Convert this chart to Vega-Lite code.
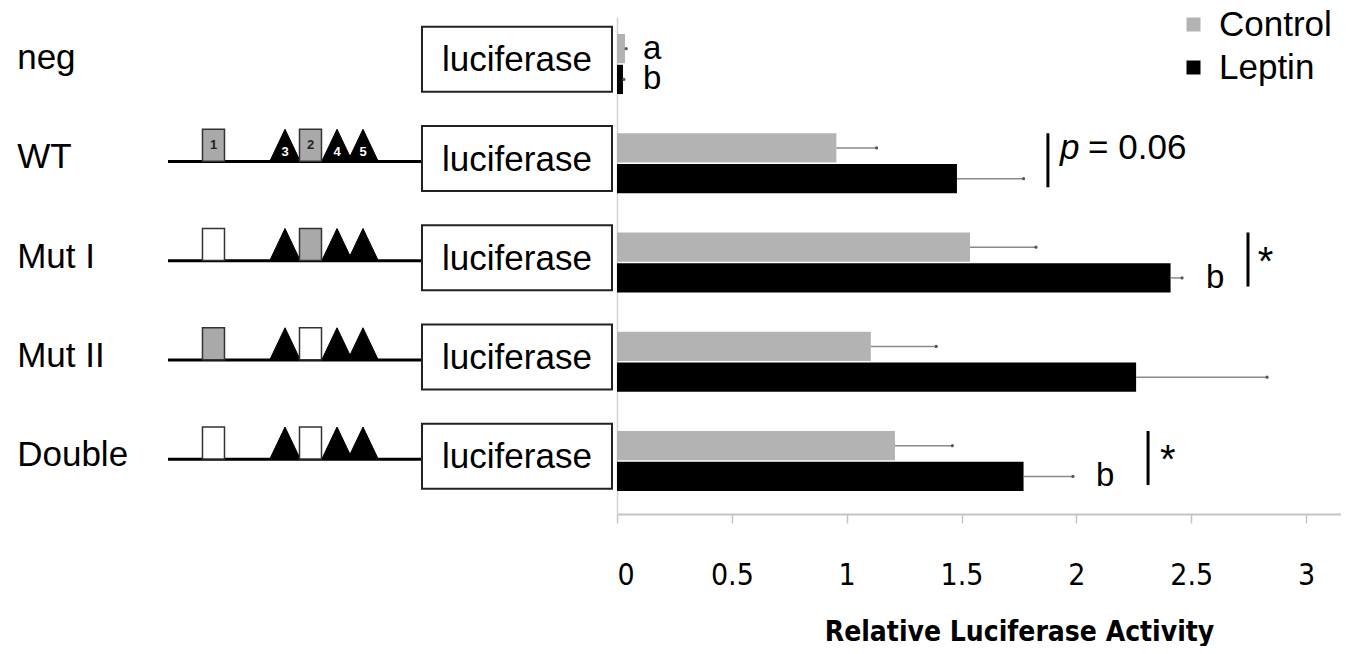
{
  "$schema": "https://vega.github.io/schema/vega-lite/v6.json",
  "background": "white",
  "padding": {"left": 0, "top": 7, "right": 0, "bottom": 0},
  "spacing": 0,
  "config": {
    "view": {"stroke": null},
    "font": "Liberation Sans",
    "legend": {
      "orient": "none", "legendX": 1176, "legendY": -10,
      "symbolType": "square", "symbolSize": 196, "symbolStrokeWidth": 0,
      "labelFont": "Liberation Sans", "labelFontSize": 35, "labelColor": "#000",
      "labelOffset": 8, "rowPadding": 7, "title": null
    }
  },
  "datasets": {
    "bars": [
      {"construct": "neg", "series": "Control", "value": 0.035, "upper": 0.04},
      {"construct": "neg", "series": "Leptin", "value": 0.026, "upper": 0.03},
      {"construct": "WT", "series": "Control", "value": 0.955, "upper": 1.13},
      {"construct": "WT", "series": "Leptin", "value": 1.48, "upper": 1.77},
      {"construct": "Mut I", "series": "Control", "value": 1.537, "upper": 1.824},
      {"construct": "Mut I", "series": "Leptin", "value": 2.41, "upper": 2.46},
      {"construct": "Mut II", "series": "Control", "value": 1.105, "upper": 1.39},
      {"construct": "Mut II", "series": "Leptin", "value": 2.26, "upper": 2.83},
      {"construct": "Double", "series": "Control", "value": 1.21, "upper": 1.46},
      {"construct": "Double", "series": "Leptin", "value": 1.77, "upper": 1.985}
    ],
    "constructs": [
      {"construct": "neg", "promoter": false},
      {"construct": "WT", "promoter": true},
      {"construct": "Mut I", "promoter": true},
      {"construct": "Mut II", "promoter": true},
      {"construct": "Double", "promoter": true}
    ],
    "sites": [
      {"construct": "WT", "site": "1", "kind": "box", "status": "intact", "pos": 34.77},
      {"construct": "WT", "site": "2", "kind": "box", "status": "intact", "pos": 50.57},
      {"construct": "WT", "site": "3", "kind": "triangle", "status": "intact", "pos": 46.42},
      {"construct": "WT", "site": "4", "kind": "triangle", "status": "intact", "pos": 54.89},
      {"construct": "WT", "site": "5", "kind": "triangle", "status": "intact", "pos": 59.12},
      {"construct": "Mut I", "site": "1", "kind": "box", "status": "mutated", "pos": 34.77},
      {"construct": "Mut I", "site": "2", "kind": "box", "status": "intact", "pos": 50.57},
      {"construct": "Mut I", "site": "3", "kind": "triangle", "status": "intact", "pos": 46.42},
      {"construct": "Mut I", "site": "4", "kind": "triangle", "status": "intact", "pos": 54.89},
      {"construct": "Mut I", "site": "5", "kind": "triangle", "status": "intact", "pos": 59.12},
      {"construct": "Mut II", "site": "1", "kind": "box", "status": "intact", "pos": 34.77},
      {"construct": "Mut II", "site": "2", "kind": "box", "status": "mutated", "pos": 50.57},
      {"construct": "Mut II", "site": "3", "kind": "triangle", "status": "intact", "pos": 46.42},
      {"construct": "Mut II", "site": "4", "kind": "triangle", "status": "intact", "pos": 54.89},
      {"construct": "Mut II", "site": "5", "kind": "triangle", "status": "intact", "pos": 59.12},
      {"construct": "Double", "site": "1", "kind": "box", "status": "mutated", "pos": 34.77},
      {"construct": "Double", "site": "2", "kind": "box", "status": "mutated", "pos": 50.57},
      {"construct": "Double", "site": "3", "kind": "triangle", "status": "intact", "pos": 46.42},
      {"construct": "Double", "site": "4", "kind": "triangle", "status": "intact", "pos": 54.89},
      {"construct": "Double", "site": "5", "kind": "triangle", "status": "intact", "pos": 59.12}
    ],
    "letters": [
      {"construct": "neg", "series": "Control", "x": 0.113, "label": "a"},
      {"construct": "neg", "series": "Leptin", "x": 0.113, "label": "b"},
      {"construct": "Mut I", "series": "Leptin", "x": 2.564, "label": "b"},
      {"construct": "Double", "series": "Leptin", "x": 2.085, "label": "b"}
    ],
    "pvalues": [
      {"construct": "WT", "series": "Control", "x": 1.929, "label": "= 0.06"}
    ],
    "sig": [
      {"construct": "WT", "x": 1.876},
      {"construct": "Mut I", "x": 2.747},
      {"construct": "Double", "x": 2.312}
    ],
    "stars": [
      {"construct": "Mut I", "x": 2.79, "label": "*"},
      {"construct": "Double", "x": 2.364, "label": "*"}
    ]
  },
  "hconcat": [
    {
      "width": 614,
      "height": 497,
      "layer": [
        {
          "data": {"name": "constructs"},
          "transform": [{"filter": "datum.promoter"}],
          "mark": {"type": "rule", "color": "#000", "strokeWidth": 3},
          "encoding": {
            "x": {"datum": 27.36, "type": "quantitative", "scale": {"domain": [0, 100], "nice": false}, "axis": null},
            "x2": {"datum": 68.73},
            "y": {"field": "construct", "type": "nominal", "sort": ["neg", "WT", "Mut I", "Mut II", "Double"], "bandPosition": 0.47,
                  "scale": {"type": "band", "paddingInner": 0.395, "paddingOuter": 0.2013, "align": 0.4255, "round": false}, "axis": null}
          }
        },
        {
          "data": {"name": "sites"},
          "transform": [{"filter": "datum.kind === 'triangle'"}],
          "mark": {"type": "point", "shape": "M0,-1L0.95,1L-0.95,1Z", "size": 1024, "filled": true, "fill": "#000", "stroke": "#000", "strokeWidth": 1, "opacity": 1},
          "encoding": {
            "x": {"field": "pos", "type": "quantitative"},
            "y": {"field": "construct", "type": "nominal", "sort": ["neg", "WT", "Mut I", "Mut II", "Double"], "bandPosition": 0.2}
          }
        },
        {
          "data": {"name": "sites"},
          "transform": [{"filter": "datum.kind === 'box'"}],
          "mark": {"type": "point", "shape": "M-0.6875,-1H0.6875V1H-0.6875Z", "size": 1024, "filled": true, "stroke": "#333", "strokeWidth": 1.5, "opacity": 1},
          "encoding": {
            "x": {"field": "pos", "type": "quantitative"},
            "y": {"field": "construct", "type": "nominal", "sort": ["neg", "WT", "Mut I", "Mut II", "Double"], "bandPosition": 0.2},
            "fill": {"field": "status", "type": "nominal", "scale": {"domain": ["intact", "mutated"], "range": ["#a9a9a9", "#ffffff"]}, "legend": null}
          }
        },
        {
          "data": {"name": "sites"},
          "transform": [{"filter": "datum.construct === 'WT' && datum.kind === 'box'"}],
          "mark": {"type": "text", "fontSize": 13, "fontWeight": "bold", "color": "#222", "align": "center", "baseline": "middle"},
          "encoding": {
            "x": {"field": "pos", "type": "quantitative"},
            "y": {"field": "construct", "type": "nominal", "sort": ["neg", "WT", "Mut I", "Mut II", "Double"], "bandPosition": 0.2},
            "text": {"field": "site"}
          }
        },
        {
          "data": {"name": "sites"},
          "transform": [{"filter": "datum.construct === 'WT' && datum.kind === 'triangle'"}],
          "mark": {"type": "text", "fontSize": 13, "fontWeight": "bold", "color": "#fff", "align": "center", "baseline": "middle"},
          "encoding": {
            "x": {"field": "pos", "type": "quantitative"},
            "y": {"field": "construct", "type": "nominal", "sort": ["neg", "WT", "Mut I", "Mut II", "Double"], "bandPosition": 0.32},
            "text": {"field": "site"}
          }
        },
        {
          "data": {"name": "constructs"},
          "mark": {"type": "point", "shape": "M-1,-0.342H1V0.342H-1Z", "size": 36100, "filled": true, "fill": "#fff", "stroke": "#222", "strokeWidth": 2, "opacity": 1},
          "encoding": {
            "x": {"datum": 84.2, "type": "quantitative"},
            "y": {"field": "construct", "type": "nominal", "sort": ["neg", "WT", "Mut I", "Mut II", "Double"], "bandPosition": 0.42}
          }
        },
        {
          "data": {"name": "constructs"},
          "mark": {"type": "text", "text": "luciferase", "fontSize": 35, "color": "#000", "align": "center", "baseline": "middle"},
          "encoding": {
            "x": {"datum": 84.2, "type": "quantitative"},
            "y": {"field": "construct", "type": "nominal", "sort": ["neg", "WT", "Mut I", "Mut II", "Double"], "bandPosition": 0.44}
          }
        },
        {
          "data": {"name": "constructs"},
          "mark": {"type": "text", "fontSize": 35, "color": "#000", "align": "left", "baseline": "middle"},
          "encoding": {
            "x": {"datum": 2.8, "type": "quantitative"},
            "y": {"field": "construct", "type": "nominal", "sort": ["neg", "WT", "Mut I", "Mut II", "Double"], "bandPosition": 0.4},
            "text": {"field": "construct"}
          }
        }
      ]
    },
    {
      "width": 724,
      "height": 497,
      "layer": [
        {
          "data": {"name": "bars"},
          "mark": {"type": "bar"},
          "encoding": {
            "y": {"field": "construct", "type": "nominal", "sort": ["neg", "WT", "Mut I", "Mut II", "Double"],
                  "scale": {"type": "band", "paddingInner": 0.395, "paddingOuter": 0.2013, "align": 0.4255, "round": false},
                  "axis": {"labels": false, "ticks": false, "title": null, "grid": false, "domainColor": "#d2d2d2", "domainWidth": 1.5}},
            "yOffset": {"field": "series", "type": "nominal", "sort": ["Control", "Leptin"], "scale": {"paddingInner": 0.05, "paddingOuter": 0}},
            "x": {"field": "value", "type": "quantitative",
                  "scale": {"domain": [0, 3.152], "nice": false, "zero": true},
                  "axis": {"values": [0, 0.5, 1, 1.5, 2, 2.5, 3], "format": "~g", "grid": false,
                           "domainColor": "#c4c4c4", "domainWidth": 2, "tickColor": "#c4c4c4", "tickWidth": 1.5, "tickSize": 9,
                           "labelFont": "Liberation Sans Narrow, DejaVu Sans Condensed, sans-serif", "labelFontSize": 30, "labelColor": "#000", "labelPadding": 37,
                           "title": "Relative Luciferase Activity", "titleFont": "Liberation Sans Narrow, DejaVu Sans Condensed, sans-serif",
                           "titleFontSize": 28, "titleFontWeight": "bold", "titleColor": "#000",
                           "titleX": 402, "titleY": 126, "titleAlign": "center", "titleBaseline": "alphabetic"}},
            "color": {"field": "series", "type": "nominal", "scale": {"domain": ["Control", "Leptin"], "range": ["#b3b3b3", "#000000"]}}
          }
        },
        {
          "data": {"name": "bars"},
          "mark": {"type": "rule", "color": "#8a8a8a", "strokeWidth": 1.5},
          "encoding": {
            "y": {"field": "construct", "type": "nominal", "sort": ["neg", "WT", "Mut I", "Mut II", "Double"]},
            "yOffset": {"field": "series", "type": "nominal", "sort": ["Control", "Leptin"]},
            "x": {"field": "value", "type": "quantitative"},
            "x2": {"field": "upper"}
          }
        },
        {
          "data": {"name": "bars"},
          "mark": {"type": "point", "filled": true, "color": "#555", "size": 10, "opacity": 1},
          "encoding": {
            "y": {"field": "construct", "type": "nominal", "sort": ["neg", "WT", "Mut I", "Mut II", "Double"]},
            "yOffset": {"field": "series", "type": "nominal", "sort": ["Control", "Leptin"]},
            "x": {"field": "upper", "type": "quantitative"}
          }
        },
        {
          "data": {"name": "letters"},
          "mark": {"type": "text", "fontSize": 33, "color": "#000", "align": "left", "baseline": "middle"},
          "encoding": {
            "y": {"field": "construct", "type": "nominal", "sort": ["neg", "WT", "Mut I", "Mut II", "Double"]},
            "yOffset": {"field": "series", "type": "nominal", "sort": ["Control", "Leptin"]},
            "x": {"field": "x", "type": "quantitative"},
            "text": {"field": "label"}
          }
        },
        {
          "data": {"name": "pvalues"},
          "mark": {"type": "text", "text": "p", "fontStyle": "italic", "fontSize": 35, "color": "#000", "align": "left", "baseline": "middle"},
          "encoding": {
            "y": {"field": "construct", "type": "nominal", "sort": ["neg", "WT", "Mut I", "Mut II", "Double"]},
            "yOffset": {"field": "series", "type": "nominal", "sort": ["Control", "Leptin"]},
            "x": {"field": "x", "type": "quantitative"}
          }
        },
        {
          "data": {"name": "pvalues"},
          "mark": {"type": "text", "fontSize": 35, "color": "#000", "align": "left", "baseline": "middle", "dx": 28},
          "encoding": {
            "y": {"field": "construct", "type": "nominal", "sort": ["neg", "WT", "Mut I", "Mut II", "Double"]},
            "yOffset": {"field": "series", "type": "nominal", "sort": ["Control", "Leptin"]},
            "x": {"field": "x", "type": "quantitative"},
            "text": {"field": "label"}
          }
        },
        {
          "data": {"name": "sig"},
          "mark": {"type": "rule", "color": "#000", "strokeWidth": 3},
          "encoding": {
            "x": {"field": "x", "type": "quantitative"},
            "y": {"field": "construct", "type": "nominal", "sort": ["neg", "WT", "Mut I", "Mut II", "Double"], "bandPosition": 0},
            "y2": {"field": "construct", "bandPosition": 0.9}
          }
        },
        {
          "data": {"name": "stars"},
          "mark": {"type": "text", "fontSize": 40, "color": "#000", "align": "left", "baseline": "middle"},
          "encoding": {
            "x": {"field": "x", "type": "quantitative"},
            "y": {"field": "construct", "type": "nominal", "sort": ["neg", "WT", "Mut I", "Mut II", "Double"]},
            "text": {"field": "label"}
          }
        }
      ]
    }
  ]
}
